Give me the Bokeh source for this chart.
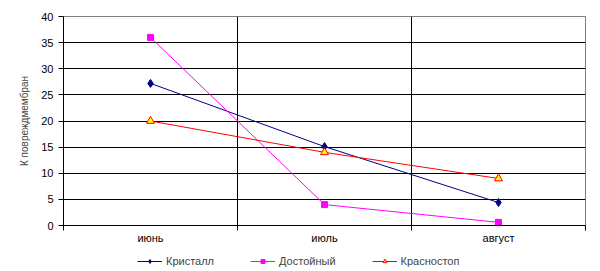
from bokeh.plotting import figure
from bokeh.models import FixedTicker, Legend, LegendItem, Range1d
from bokeh.layouts import column
from bokeh.embed import file_html
from bokeh.resources import INLINE

months = ["июнь", "июль", "август"]
series_names = ["Кристалл", "Достойный", "Красностоп"]
kristall = [27.2, 15.1, 4.4]
dostoyny = [36.0, 4.0, 0.6]
krasnostop = [20.0, 14.0, 9.0]
y_ticks = [0, 5, 10, 15, 20, 25, 30, 35, 40]
y_label = "К повреждмембран"

FONT = "Liberation Sans"
xs = [i + 0.5 for i in range(len(months))]
colors = ["#000080", "#FF00FF", "#FF0000"]
fills = ["#000080", "#FF00FF", "#FFFF00"]
markers = ["diamond", "square", "triangle"]
sizes = [8, 6, 8]
series = [kristall, dostoyny, krasnostop]

p = figure(width=600, height=246, output_backend="svg", toolbar_location=None,
           x_range=Range1d(0, len(months)), y_range=Range1d(0, 40),
           min_border_left=63, min_border_right=15, min_border_top=16,
           min_border_bottom=21)
p.background_fill_color = "white"
p.border_fill_color = "white"
p.outline_line_color = "#808080"

xt = FixedTicker(ticks=xs, minor_ticks=list(range(len(months) + 1)))
p.xaxis.ticker = xt
p.xaxis.major_label_overrides = {x: m for x, m in zip(xs, months)}
p.xaxis.major_tick_out = 0
p.xaxis.major_tick_in = 0
p.xaxis.minor_tick_out = 5
p.xaxis.minor_tick_in = 0
p.xaxis.minor_tick_line_color = "black"
p.xaxis.axis_line_color = "black"
p.xaxis.major_label_standoff = 1
p.xaxis.major_label_text_font = FONT
p.xaxis.major_label_text_font_size = "11px"
p.xaxis.major_label_text_color = "black"

p.yaxis.ticker = FixedTicker(ticks=y_ticks, minor_ticks=[])
p.yaxis.major_tick_out = 5
p.yaxis.major_tick_in = 0
p.yaxis.major_tick_line_color = "black"
p.yaxis.axis_line_color = "black"
p.yaxis.major_label_standoff = 5
p.yaxis.major_label_text_font = FONT
p.yaxis.major_label_text_font_size = "11px"
p.yaxis.major_label_text_color = "black"
p.yaxis.axis_label = y_label
p.yaxis.axis_label_text_font = FONT
p.yaxis.axis_label_text_font_style = "normal"
p.yaxis.axis_label_text_font_size = "10px"
p.yaxis.axis_label_standoff = 8

p.xgrid.ticker = FixedTicker(ticks=list(range(len(months) + 1)))
p.xgrid.grid_line_color = "black"
p.xgrid.grid_line_alpha = 1
p.ygrid.ticker = FixedTicker(ticks=y_ticks)
p.ygrid.grid_line_color = "black"
p.ygrid.grid_line_alpha = 1

for vals, c, f, mk, sz in zip(series, colors, fills, markers, sizes):
    p.line(xs, vals, line_color=c, line_width=1)
    p.scatter(xs, vals, marker=mk, size=sz, fill_color=f, line_color=c)

# legend strip below the chart
lg = figure(width=600, height=25, output_backend="svg", toolbar_location=None,
            x_range=Range1d(0, 1), y_range=Range1d(1000, 1001),
            min_border=0, min_border_left=0, min_border_right=0,
            min_border_top=0, min_border_bottom=0)
lg.axis.visible = False
lg.grid.visible = False
lg.outline_line_color = None
lg.background_fill_color = "white"
lg.border_fill_color = "white"
items = []
for name, vals, c, f, mk, sz in zip(series_names, series, colors, fills, markers, sizes):
    r1 = lg.line(xs, vals, line_color=c, line_width=1)
    r2 = lg.scatter(xs, vals, marker=mk, size=sz, fill_color=f, line_color=c)
    items.append(LegendItem(label=name, renderers=[r1, r2]))

legend = Legend(items=items, orientation="horizontal", location=(74, 4),
                border_line_color=None, background_fill_alpha=0,
                label_text_font=FONT, label_text_font_size="11px",
                glyph_width=25, glyph_height=10, label_standoff=4, spacing=36,
                padding=2, margin=0, label_height=10)
lg.add_layout(legend, "center")

layout = column(p, lg, spacing=0)
open("out.html", "w").write(file_html(layout, INLINE))
